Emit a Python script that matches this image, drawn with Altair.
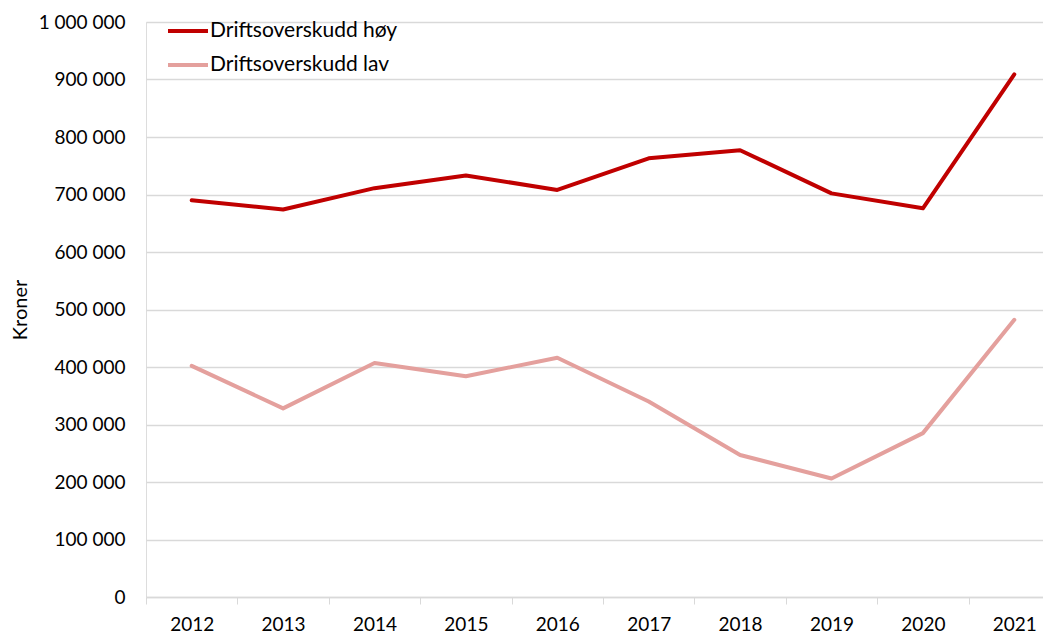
import altair as alt
import pandas as pd

years = ["2012", "2013", "2014", "2015", "2016", "2017", "2018", "2019", "2020", "2021"]
hoy = [690000, 674000, 711000, 733000, 708000, 763000, 777000, 702000, 676000, 909000]
lav = [402000, 328000, 407000, 384000, 416000, 340000, 247000, 206000, 285000, 482000]
series_names = ["Driftsoverskudd høy", "Driftsoverskudd lav"]
series_colors = ["#C00000", "#E4A09D"]
y_ticks = [0, 100000, 200000, 300000, 400000, 500000, 600000, 700000, 800000, 900000, 1000000]

rows = []
for y, v in zip(years, hoy):
    rows.append({"year": y, "value": v, "serie": series_names[0]})
for y, v in zip(years, lav):
    rows.append({"year": y, "value": v, "serie": series_names[1]})
df = pd.DataFrame(rows)

FONT = "Lato"

chart = alt.Chart(df).mark_line(strokeWidth=4, strokeCap="round", strokeJoin="round").encode(
    x=alt.X("year:N", sort=years, title=None,
            scale=alt.Scale(type="band", paddingInner=0, paddingOuter=0, range=[0, 914]),
            axis=alt.Axis(labelAngle=0, tickBand="extent", tickSize=7, labelPadding=11,
                          domainColor="#d9d9d9", tickColor="#d9d9d9", domainWidth=1.5,
                          labelFontSize=19, labelColor="#000000", labelFont=FONT, grid=False)),
    y=alt.Y("value:Q", title="Kroner",
            scale=alt.Scale(domain=[0, 1000000], nice=False),
            axis=alt.Axis(values=y_ticks, domain=False, ticks=False, grid=True,
                          gridColor="#d9d9d9", gridWidth=1.5,
                          labelExpr="replace(format(datum.value, ','), regexp(',', 'g'), ' ')",
                          labelFontSize=19, labelColor="#000000", labelFont=FONT, labelPadding=21,
                          titleFontSize=20, titleFont=FONT, titleFontWeight="normal",
                          titleColor="#000000", titlePadding=8)),
    color=alt.Color("serie:N", sort=series_names,
                    scale=alt.Scale(domain=series_names, range=series_colors),
                    legend=alt.Legend(title=None, orient="none", legendX=20, legendY=-13,
                                      symbolType="stroke", symbolSize=1600, symbolStrokeWidth=4,
                                      labelFontSize=21, labelFont=FONT, labelColor="#000000",
                                      labelLimit=400, rowPadding=2, labelOffset=0)),
).properties(
    width=897, height=575,
    autosize=alt.AutoSizeParams(type="none"),
    padding={"left": 138, "top": 14, "right": 0, "bottom": 40},
).configure_view(stroke=None).configure(background="white")

chart.save("out.html", embed_options={"renderer": "svg", "actions": False})
